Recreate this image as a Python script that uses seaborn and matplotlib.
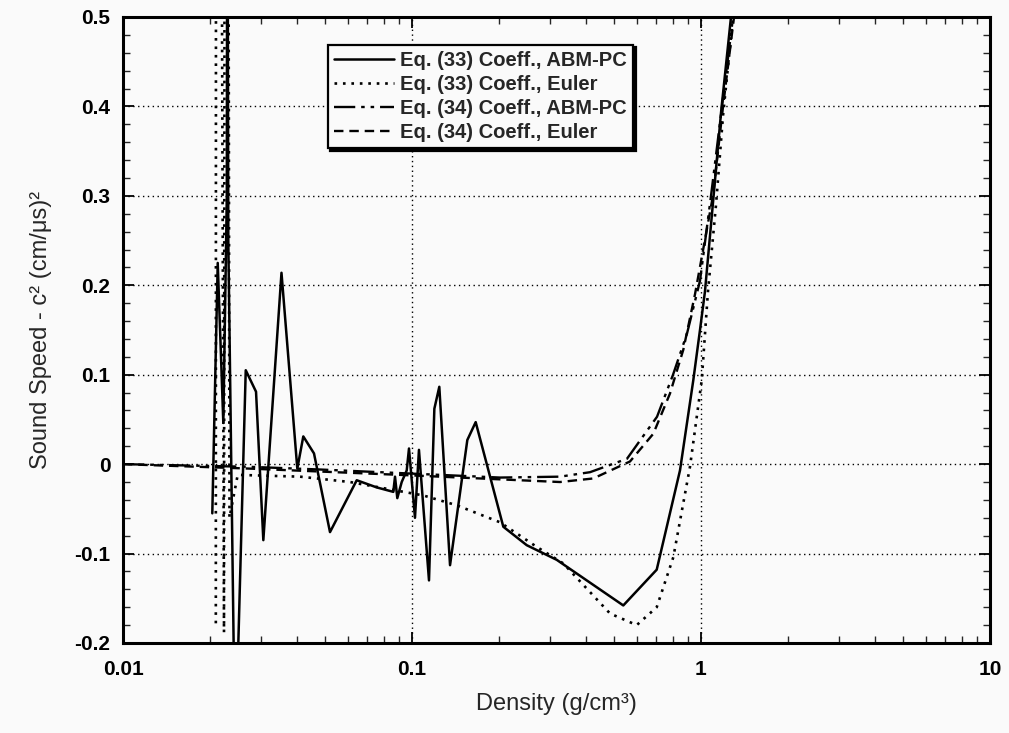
import numpy as np
import pandas as pd
import matplotlib
matplotlib.use("Agg")
import matplotlib.pyplot as plt
from matplotlib.ticker import MultipleLocator, LogLocator, NullFormatter
import seaborn as sns

# ---- data ----
eq33_abm_density = [0.02037, 0.02127, 0.02224, 0.02287, 0.02296, 0.02314, 0.02444, 0.02659,
                    0.02886, 0.03059, 0.03535, 0.0401, 0.04206, 0.0458, 0.05203, 0.06438,
                    0.07548, 0.08616, 0.08734, 0.08895, 0.09213, 0.09588, 0.09763, 0.1024,
                    0.1057, 0.1145, 0.1195, 0.1243, 0.1354, 0.1554, 0.1661, 0.2070, 0.2494,
                    0.3168, 0.5384, 0.7027, 0.8459, 0.9406, 0.9920, 1.032, 1.100, 1.173,
                    1.270, 1.322]
eq33_abm_c2 = [-0.055, 0.225, 0.046, 0.30, 0.80, 0.25, -0.33, 0.105,
               0.081, -0.085, 0.214, -0.005, 0.031, 0.012, -0.076, -0.018,
               -0.026, -0.031, -0.014, -0.038, -0.020, -0.007, 0.0175, -0.060,
               0.016, -0.130, 0.062, 0.0865, -0.113, 0.027, 0.047, -0.070, -0.0906,
               -0.107, -0.158, -0.118, -0.007, 0.094, 0.150, 0.193, 0.292, 0.393,
               0.500, 0.560]

eq33_euler_density = [0.02095, 0.02103, 0.02236, 0.02268, 0.02336, 0.02494, 0.04098, 0.06104,
                      0.1094, 0.1428, 0.2016, 0.2701, 0.3338, 0.4843, 0.5992, 0.7027,
                      0.8022, 0.9159, 1.006, 1.057, 1.127, 1.192, 1.291, 1.343]
eq33_euler_c2 = [-0.178, 2.5, -0.188, 2.5, -0.060, -0.012, -0.014, -0.020,
                 -0.035, -0.046, -0.065, -0.0925, -0.111, -0.167, -0.180, -0.160,
                 -0.104, -0.003, 0.094, 0.193, 0.290, 0.390, 0.500, 0.560]

eq34_abm_density = [0.01, 0.02751, 0.04806, 0.09089, 0.2016, 0.3252, 0.4130, 0.5545,
                    0.7044, 0.8002, 0.8945, 0.9920, 1.083, 1.182, 1.291, 1.343]
eq34_abm_c2 = [0.0, -0.003, -0.006, -0.010, -0.015, -0.014, -0.009, 0.006,
               0.053, 0.100, 0.146, 0.205, 0.300, 0.400, 0.500, 0.560]

eq34_euler_density = [0.01, 0.02751, 0.09089, 0.2016, 0.3252, 0.4240, 0.5680, 0.6839,
                      0.7811, 0.8686, 0.9533, 1.100, 1.192, 1.301, 1.354]
eq34_euler_c2 = [0.0, -0.005, -0.012, -0.017, -0.020, -0.016, 0.003, 0.034,
                 0.079, 0.128, 0.190, 0.300, 0.400, 0.500, 0.560]

series_labels = ["Eq. (33) Coeff., ABM-PC", "Eq. (33) Coeff., Euler",
                 "Eq. (34) Coeff., ABM-PC", "Eq. (34) Coeff., Euler"]
y_ticks = [-0.2, -0.1, 0.0, 0.1, 0.2, 0.3, 0.4, 0.5]
y_tick_labels = ["-0.2", "-0.1", "0", "0.1", "0.2", "0.3", "0.4", "0.5"]
x_ticks = [0.01, 0.1, 1, 10]
x_tick_labels = ["0.01", "0.1", "1", "10"]
x_label = "Density (g/cm³)"
y_label = "Sound Speed - c² (cm/μs)²"

# ---- styling ----
sns.set_style("ticks")
plt.rcParams['font.family'] = ['Liberation Sans', 'DejaVu Sans']

fig = plt.figure(figsize=(10.09, 7.33), dpi=100)
fig.patch.set_facecolor("#fafafa")
ax = fig.add_axes([123/1009, 1 - 643/733, (990-123)/1009, (643-17)/733])
ax.set_facecolor("#fafafa")

styles = [
    (eq33_abm_density, eq33_abm_c2, "-", 1.8),
    (eq33_euler_density, eq33_euler_c2, (0, (1, 2.2)), 1.9),
    (eq34_abm_density, eq34_abm_c2, (0, (9, 2.5, 1.5, 2.5, 1.5, 2.5)), 1.7),
    (eq34_euler_density, eq34_euler_c2, (0, (4, 2.5)), 1.7),
]
for (xd, yd, ls, lw), lab in zip(styles, series_labels):
    df = pd.DataFrame({"density": xd, "c2": yd})
    sns.lineplot(data=df, x="density", y="c2", ax=ax, sort=False, estimator=None,
                 color="black", linestyle=ls, linewidth=lw, label=lab)

ax.set_xscale("log")
ax.set_xlim(0.01, 10)
ax.set_ylim(-0.2, 0.5)

ax.set_yticks(y_ticks)
ax.set_yticklabels(y_tick_labels)
ax.set_xticks(x_ticks)
ax.set_xticklabels(x_tick_labels)
ax.yaxis.set_minor_locator(MultipleLocator(0.02))
ax.xaxis.set_minor_locator(LogLocator(base=10, subs=np.arange(2, 10)))
ax.xaxis.set_minor_formatter(NullFormatter())

ax.tick_params(which="major", direction="in", length=8, width=1.3, top=True, right=True,
               labelsize=15, pad=9, colors="black")
ax.tick_params(axis="x", which="major", pad=12)
ax.tick_params(which="minor", direction="in", length=5, width=1.0, top=True, right=True)
for lab in ax.get_xticklabels() + ax.get_yticklabels():
    lab.set_fontweight("bold")

ax.grid(True, which="major", color="black", linestyle=(0, (1, 2.5)), linewidth=1.0)
for sp in ax.spines.values():
    sp.set_linewidth(2.2)
    sp.set_color("black")

ax.set_xlabel(x_label, fontsize=17, labelpad=10)
ax.set_ylabel(y_label, fontsize=17, labelpad=16)

leg = ax.legend(loc="upper left", bbox_to_anchor=(0.236, 0.956), fontsize=14.5,
                frameon=True, fancybox=False, shadow={"color": "black", "alpha": 1.0},
                handlelength=3.0, handletextpad=0.3, borderpad=0.3, labelspacing=0.25,
                borderaxespad=0)
leg.get_frame().set_edgecolor("black")
leg.get_frame().set_linewidth(1.6)
leg.get_frame().set_facecolor("#fafafa")
for t in leg.get_texts():
    t.set_fontweight("bold")

fig.savefig("out.png", dpi=100, facecolor=fig.get_facecolor())
